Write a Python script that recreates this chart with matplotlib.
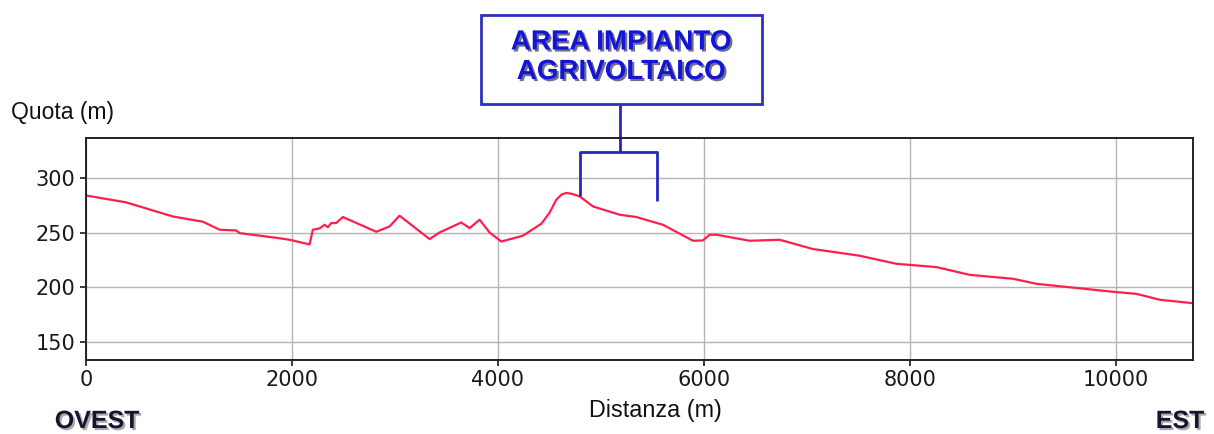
import matplotlib
matplotlib.use("Agg")
import matplotlib.pyplot as plt
import matplotlib.patheffects as pe
from matplotlib.patches import Rectangle

# Profile data (distance m, elevation m)
dist = [0, 390, 843, 1135, 1297, 1459, 1491, 1847, 1977, 2171, 2203, 2268, 2317,
        2349, 2381, 2430, 2494, 2819, 2948, 3045, 3337, 3434, 3644, 3725, 3822,
        3919, 4033, 4243, 4422, 4500, 4567, 4620, 4664, 4720, 4794, 4923, 5182,
        5344, 5603, 5894, 5991, 6056, 6121, 6445, 6736, 7060, 7513, 7870, 8258,
        8582, 9003, 9230, 9974, 10201, 10428, 10745]
elev = [284, 277.7, 264.8, 260, 252.7, 252, 249.6, 245.3, 243.5, 239.2, 252.7,
        253.9, 257.2, 255, 258.8, 258.8, 264.3, 250.8, 255.7, 265.5, 244.1, 250.2,
        259.3, 254.2, 261.8, 250.2, 241.9, 247.2, 258.2, 268, 280.1, 285, 286.3,
        285.5, 283.2, 274, 266.4, 264.3, 257.2, 242.6, 242.9, 248.1, 248.1, 242.6,
        243.5, 235, 228.9, 221.5, 218.5, 211.4, 207.8, 203.2, 195.9, 194, 188.6,
        185.5]

xticks = [0, 2000, 4000, 6000, 8000, 10000]
yticks = [150, 200, 250, 300]

# annotated area (distance range)
area_start = 4794
area_end = 5548
area_center = 5189

W, H = 1214, 434
fig = plt.figure(figsize=(W / 100, H / 100), dpi=100)
fig.patch.set_facecolor("white")
ax = fig.add_axes([86 / W, 1 - 360 / H, (1193 - 86) / W, (360 - 138) / H])

ax.plot(dist, elev, color="#ff1f4f", lw=1.6)
ax.set_xlim(0, 10750)
ax.set_ylim(133.5, 336.6)
ax.set_xticks(xticks)
ax.set_yticks(yticks)
ax.grid(True, color="#b4b4b4", lw=1.0)
ax.tick_params(labelsize=15, colors="#1a1a1a", width=1.2, length=4)
for s in ax.spines.values():
    s.set_color("#222222")
    s.set_linewidth(1.4)

# bracket annotation
bl = dict(color="#2626c4", lw=2.0, clip_on=False, solid_capstyle="butt")
ax.plot([area_start, area_start, area_end, area_end], [283.2, 324, 324, 279.2], **bl)
ax.plot([area_center, area_center], [324, 368], **bl)

# label box
bx0, bx1, by0, by1 = 480.7, 761.7, 15, 104
rect = Rectangle((bx0 / W, 1 - by1 / H), (bx1 - bx0) / W, (by1 - by0) / H,
                 transform=fig.transFigure, facecolor="white",
                 edgecolor="#2f2fc0", lw=2.0)
fig.add_artist(rect)
shadow = [pe.withSimplePatchShadow(offset=(1.5, -1.5), shadow_rgbFace="#101040", alpha=0.6)]
for txt, yy in [("AREA IMPIANTO", 42.5), ("AGRIVOLTAICO", 72)]:
    fig.text(621 / W, 1 - yy / H, txt, ha="center", va="center",
             fontsize=20, fontweight="bold", family="Liberation Sans",
             color="#1414d8", path_effects=shadow)

fig.text(11 / W, 1 - 113 / H, "Quota (m)", ha="left", va="center",
         fontsize=16.5, family="Liberation Sans", color="#111111")
fig.text(655 / W, 1 - 411 / H, "Distanza (m)", ha="center", va="center",
         fontsize=16.8, family="Liberation Sans", color="#111111")

dshadow = [pe.withSimplePatchShadow(offset=(1.5, -1.5), shadow_rgbFace="#555555", alpha=0.5)]
fig.text(97 / W, 1 - 421 / H, "OVEST", ha="center", va="center",
         fontsize=18, fontweight="bold", family="Liberation Sans",
         color="#15152e", path_effects=dshadow)
fig.text(1180 / W, 1 - 421 / H, "EST", ha="center", va="center",
         fontsize=18, fontweight="bold", family="Liberation Sans",
         color="#15152e", path_effects=dshadow)

fig.savefig("out.png", dpi=100, facecolor="white")
